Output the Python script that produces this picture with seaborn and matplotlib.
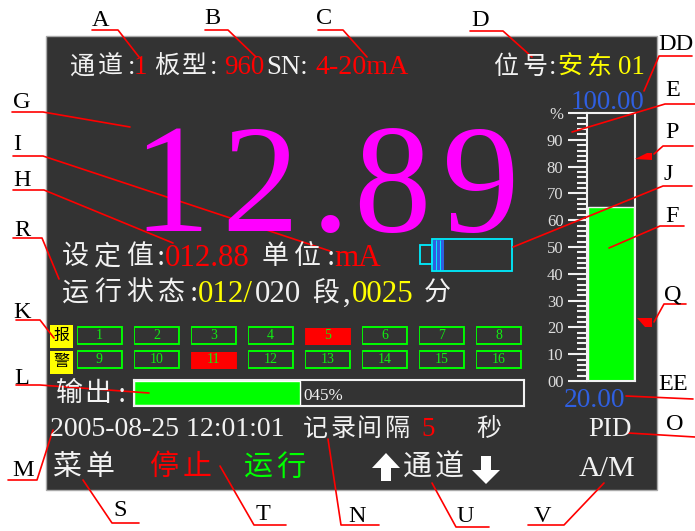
import matplotlib
matplotlib.use("Agg")
import numpy as np
import pandas as pd
import matplotlib.pyplot as plt
import seaborn as sns
from matplotlib.patches import Rectangle, Polygon

sns.set_theme(style="white")
plt.rcParams["font.family"] = ["Liberation Serif", "Noto Sans CJK SC"]
plt.rcParams["axes.unicode_minus"] = False

# values
gauge_value = [65]
gauge_ticks = [0, 10, 20, 30, 40, 50, 60, 70, 80, 90, 100]
gauge_minor = [v for v in range(0, 101, 2) if v % 10 != 0]
gauge_labels = ["00", "10", "20", "30", "40", "50", "60", "70", "80", "90", "%"]
output_value = [42.6]
alarm_row1 = [1, 2, 3, 4, 5, 6, 7, 8]
alarm_row2 = [9, 10, 11, 12, 13, 14, 15, 16]
alarm_on = [5, 11]
callouts = ["A", "B", "C", "D", "DD", "E", "P", "J", "F", "G", "I", "H",
            "R", "K", "L", "M", "S", "T", "N", "U", "V", "Q", "EE", "O"]

BG = "#333333"
RED = "#ff0000"
WHITE = "#f2f2f2"
YELLOW = "#ffff00"
GREEN = "#00ff00"
BLUE = "#2f5fe0"
MAGENTA = "#ff00ff"
CYAN = "#00eeff"
W, H = 695, 531


def px_axes(x0, y0, x1, y1):
    # axes placed by pixel box of the 695x531 picture
    return fig.add_axes([x0 / W, 1 - y1 / H, (x1 - x0) / W, (y1 - y0) / H])


def put(x, y, s, color=WHITE, px=27, pitch=None):
    # y is the centre of the line, pitch spreads out the CJK characters
    size = px * 0.72
    y = y + px * 0.1
    if pitch is None:
        ax.text(x, y, s, color=color, fontsize=size, va="center", ha="left")
    else:
        for i, ch in enumerate(s):
            ax.text(x + i * pitch, y, ch, color=color, fontsize=size, va="center", ha="left")


fig = plt.figure(figsize=(6.95, 5.31), dpi=100)

ax_bg = px_axes(0, 0, W, H)
ax_bg.set_xlim(0, W)
ax_bg.set_ylim(H, 0)
ax_bg.axis("off")
ax_bg.add_patch(Rectangle((46, 36), 611, 454, fc=BG, ec="#aaaaaa", lw=1))

# texts and leader lines go on a clear layer above the small axes
ax = px_axes(0, 0, W, H)
ax.set_xlim(0, W)
ax.set_ylim(H, 0)
ax.axis("off")
ax.set_zorder(5)

# header
put(69, 65, "通道", px=25, pitch=29)
put(128, 65, ":", px=27)
put(134, 65, "1", RED)
put(154, 65, "板型", px=25, pitch=28)
put(210, 65, ":", px=27)
put(224, 65, "960", RED)
put(266, 65, "SN:", px=27)
put(316, 65, "4-20mA", RED, px=28)
put(493, 65, "位号", px=25, pitch=29)
put(549, 65, ":", px=27)
put(557, 65, "安东", YELLOW, px=25, pitch=29)
put(618, 65, "01", YELLOW)
put(571, 100, "100.00", BLUE)

# main reading, spaced out digit by digit
for cx, ch in zip([171, 260, 330, 392, 481], "12.89"):
    ax.text(cx, 231, ch, color=MAGENTA, fontsize=155 * 0.72, ha="center", va="baseline")

put(62, 255, "设定值", px=27, pitch=32)
put(157, 255, ":", px=30)
put(165, 255, "012.88", RED, px=31)
put(262, 255, "单位", px=27, pitch=32)
put(327, 255, ":", px=30)
put(334, 255, "mA", RED, px=31)
put(62, 291, "运行状态", px=27, pitch=32)
put(190, 291, ":", px=30)
put(198, 291, "012/", YELLOW, px=31)
put(255, 291, "020", px=31)
put(312, 291, "段", px=27)
put(343, 291, ",", px=31)
put(352, 291, "0025", YELLOW, px=31)
put(424, 291, "分", px=27)

# battery icon
ax.add_patch(Rectangle((433, 240), 11, 30, fc=BLUE, ec="none"))
ax.vlines([436, 440], 240, 270, color=CYAN, lw=0.7)
ax.add_patch(Rectangle((432, 239), 80, 32, fc="none", ec=CYAN, lw=1.3))
ax.add_patch(Rectangle((420, 245), 12, 19, fc="none", ec=CYAN, lw=1.3))

# alarm label
for y0, ch in zip([325, 351], ["报", "警"]):
    ax.add_patch(Rectangle((50, y0), 23, 23, fc=YELLOW, ec="none"))
    ax.text(61.5, y0 + 11, ch, color="black", fontsize=11.5, ha="center", va="center")

# alarm channels
alarm_ids = np.array([alarm_row1, alarm_row2])
alarm_df = pd.DataFrame(np.isin(alarm_ids, alarm_on).astype(int))
ax_alarm = px_axes(71, 323.5, 527, 371.5)
sns.heatmap(alarm_df, ax=ax_alarm, cmap=[BG, RED], vmin=0, vmax=1, cbar=False,
            annot=alarm_ids, fmt="d", annot_kws={"color": "#11ee11", "fontsize": 10},
            linewidths=5, linecolor=BG, xticklabels=False, yticklabels=False)
ax_alarm.vlines(range(9), 0, 2, color=BG, lw=8, zorder=1.5)
for r in range(alarm_ids.shape[0]):
    for c in range(alarm_ids.shape[1]):
        if alarm_ids[r, c] not in alarm_on:
            ax_alarm.add_patch(Rectangle((c + 0.1, r + 0.15), 0.8, 0.7, fc="none", ec=GREEN, lw=1.4))

# output bar
put(56, 392, "输出", px=27, pitch=28)
put(118, 392, ":", px=30)
ax_out = px_axes(134, 380, 524, 406)
sns.barplot(x=output_value, y=[""], ax=ax_out, color=GREEN, saturation=1, width=0.92, orient="h")
ax_out.set_xlim(0, 100)
ax_out.set_facecolor(BG)
ax_out.set_xticks([])
ax_out.set_yticks([])
ax_out.set_xlabel("")
ax_out.set_ylabel("")
for s in ax_out.spines.values():
    s.set_color(WHITE)
    s.set_linewidth(1.5)
put(303, 394, "045%", px=17)

# gauge on the right
ax_g = px_axes(587, 113, 635, 381)
sns.barplot(x=[""], y=gauge_value, ax=ax_g, color=GREEN, saturation=1, width=0.96,
            edgecolor=WHITE, linewidth=1)
ax_g.set_xlim(-0.5, 0.5)
ax_g.set_ylim(0, 100)
ax_g.set_facecolor(BG)
ax_g.set_xticks([])
ax_g.set_xlabel("")
ax_g.set_ylabel("")
ax_g.set_yticks(gauge_ticks)
ax_g.set_yticklabels(gauge_labels)
ax_g.set_yticks(gauge_minor, minor=True)
ax_g.tick_params(axis="y", which="major", left=True, length=14, width=1.5, color=WHITE,
                 labelcolor="#dddddd", labelsize=12, pad=3, direction="out")
ax_g.tick_params(axis="y", which="minor", left=True, length=7.5, width=1.5, color=WHITE, direction="out")
for s in ax_g.spines.values():
    s.set_color(WHITE)
    s.set_linewidth(1.5)

ax.add_patch(Polygon([(635, 159), (647, 153), (652, 153), (652, 160)], fc=RED, ec="none"))
ax.add_patch(Polygon([(637, 318), (652, 318), (652, 327), (645, 327)], fc=RED, ec="none"))
put(564, 398, "20.00", BLUE, px=27.5)

# bottom rows
put(50, 427, "2005-08-25 12:01:01", px=27.8)
put(303, 427, "记录间隔", px=25, pitch=27)
put(421, 427, "5", RED)
put(476, 427, "秒", px=25)
put(588, 427, "PID", px=27)
put(52, 465, "菜单", px=29, pitch=33)
put(149, 465, "停止", RED, px=29, pitch=34)
put(244, 465, "运行", GREEN, px=29, pitch=32)
put(403, 465, "通道", px=29, pitch=32)
put(579, 466, "A/M", px=30)
ax.add_patch(Polygon([(372, 468), (386, 453), (400, 468), (391, 468), (391, 481), (381, 481), (381, 468)],
                     fc="white", ec="none"))
ax.add_patch(Polygon([(472, 470), (481, 470), (481, 456), (491, 456), (491, 470), (500, 470), (486, 484)],
                     fc="white", ec="none"))

# callout letters and their leader lines
label_pos = [(101, 20), (212, 18), (324, 18), (480, 20), (676, 44), (673, 91), (672, 133), (668, 174),
             (672, 217), (22, 102), (17, 145), (22, 180), (22, 231), (22, 312), (22, 378), (23, 471),
             (120, 510), (263, 515), (357, 517), (465, 517), (542, 516), (673, 295), (673, 385), (675, 425)]
leaders = [
    [(92, 30), (118, 30), (139, 57)],
    [(205, 30), (228, 30), (256, 57)],
    [(318, 30), (343, 30), (367, 57)],
    [(470, 31), (503, 31), (532, 57)],
    [(692, 56), (659, 56), (644, 91)],
    [(695, 104), (665, 104), (572, 132)],
    [(693, 146), (663, 146), (654, 154)],
    [(692, 186), (663, 186), (513, 247)],
    [(684, 226), (660, 226), (609, 248)],
    [(12, 112), (43, 112), (130, 127)],
    [(13, 156), (43, 156), (330, 251)],
    [(13, 190), (44, 190), (173, 243)],
    [(13, 238), (42, 238), (59, 279)],
    [(16, 320), (40, 320), (54, 338)],
    [(16, 385), (40, 385), (149, 393)],
    [(8, 480), (37, 480), (53, 430)],
    [(139, 523), (112, 523), (83, 480)],
    [(286, 525), (254, 525), (220, 466)],
    [(379, 525), (341, 525), (328, 439)],
    [(489, 527), (456, 527), (432, 483)],
    [(528, 525), (564, 525), (604, 483)],
    [(686, 304), (664, 304), (654, 322)],
    [(693, 399), (626, 396)],
    [(695, 437), (628, 433)],
]
for name, (lx, ly), pts in zip(callouts, label_pos, leaders):
    ax.text(lx, ly, name, color="black", fontsize=17.5, ha="center", va="center")
    xs, ys = zip(*pts)
    ax.plot(xs, ys, color=RED, lw=1.2, clip_on=False)

fig.savefig("out.png", dpi=100)
